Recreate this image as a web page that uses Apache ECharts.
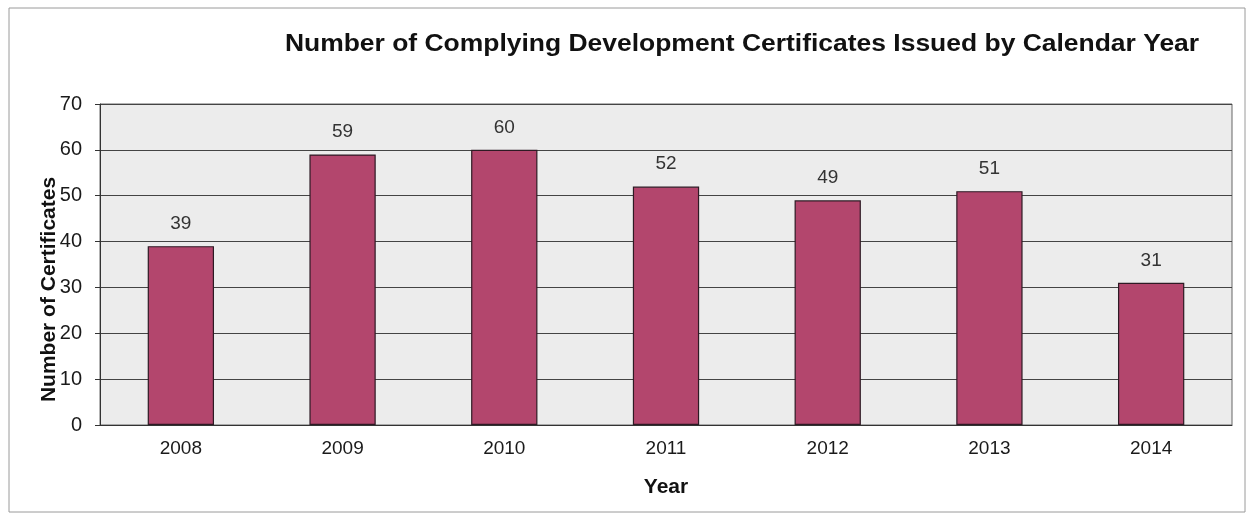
<!DOCTYPE html>
<html>
<head>
<meta charset="utf-8">
<script src="https://cdn.jsdelivr.net/npm/echarts@6/dist/echarts.min.js"></script>
<style>
  html, body { margin: 0; padding: 0; background: #fff; }
  #chart { width: 1253px; height: 524px; }
</style>
</head>
<body>
<div id="chart"></div>
<script>
// Certificates issued per calendar year
const years = ['2008', '2009', '2010', '2011', '2012', '2013', '2014'];
const certificates = [39, 59, 60, 52, 49, 51, 31];
const yTicks = { min: 0, max: 70, step: 10 };
const chartTitle = 'Number of Complying Development Certificates Issued by Calendar Year';

const FONT = 'Liberation Sans, Arial, sans-serif';
const chart = echarts.init(document.getElementById('chart'), null, { renderer: 'canvas' });

chart.setOption({
  animation: false,
  backgroundColor: '#ffffff',
  textStyle: { fontFamily: FONT },
  graphic: [
    {
      type: 'rect',
      shape: { x: 9, y: 8, width: 1236, height: 504 },
      style: { fill: 'none', stroke: '#9a9a9a', lineWidth: 1 },
      silent: true
    },
    {
      // wide bold heading above the plot
      type: 'text',
      x: 742,
      y: 45,
      scaleX: 1.15,
      style: {
        text: chartTitle,
        font: 'bold 23px ' + FONT,
        fill: '#111',
        align: 'center',
        verticalAlign: 'middle'
      },
      silent: true
    }
  ],
  grid: {
    left: 100, right: 21, top: 104, bottom: 99,
    show: true,
    backgroundColor: '#ececec',
    borderColor: '#666',
    borderWidth: 1
  },
  xAxis: {
    type: 'category',
    data: years,
    name: 'Year',
    nameLocation: 'middle',
    nameGap: 52,
    nameTextStyle: { fontSize: 21, fontWeight: 'bold', color: '#111' },
    axisLine: { lineStyle: { color: '#333' } },
    axisTick: { show: false },
    axisLabel: { fontSize: 19, color: '#1a1a1a', margin: 14 }
  },
  yAxis: {
    type: 'value',
    min: yTicks.min,
    max: yTicks.max,
    interval: yTicks.step,
    name: 'Number of Certificates',
    nameLocation: 'middle',
    nameMoveOverlap: false,
    nameGap: 40,
    nameTextStyle: {
      fontSize: 21, fontWeight: 'bold', color: '#111',
      padding: [0, 50, 0, 0]
    },
    axisLine: { show: true, lineStyle: { color: '#333' } },
    axisTick: { show: true, length: 5, lineStyle: { color: '#333' } },
    axisLabel: { fontSize: 20, color: '#1a1a1a', margin: 18 },
    splitLine: { lineStyle: { color: '#444', width: 1 } }
  },
  series: [{
    type: 'bar',
    data: certificates,
    barWidth: '41%',
    itemStyle: { color: '#b3466d', borderColor: '#2e1a24', borderWidth: 1.2 },
    label: {
      show: true,
      position: 'top',
      distance: 13,
      fontSize: 19,
      color: '#333'
    }
  }]
});
</script>
</body>
</html>
